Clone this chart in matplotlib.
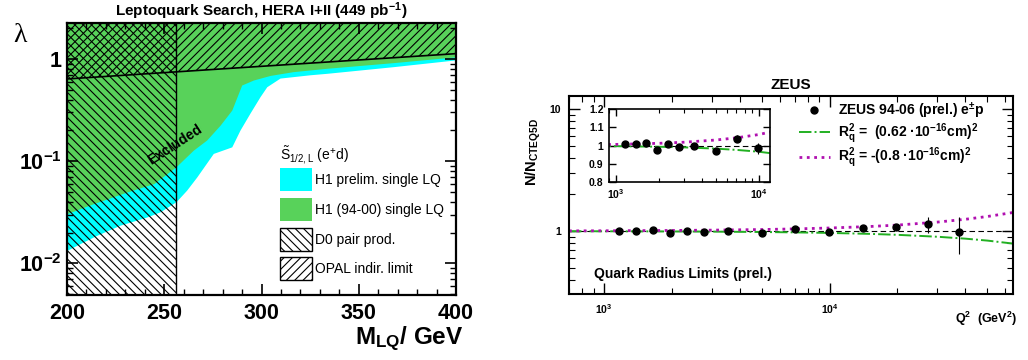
import matplotlib
matplotlib.use('Agg')
import matplotlib.pyplot as plt
from matplotlib.patches import Rectangle
from matplotlib.lines import Line2D
from matplotlib.ticker import MultipleLocator, NullFormatter

plt.rcParams['font.family'] = ['Liberation Sans', 'DejaVu Sans']
plt.rcParams['font.weight'] = 'bold'
plt.rcParams['axes.titleweight'] = 'bold'
plt.rcParams['axes.labelweight'] = 'bold'
plt.rcParams['mathtext.fontset'] = 'custom'
plt.rcParams['mathtext.rm'] = 'Liberation Sans:weight=normal'
plt.rcParams['mathtext.it'] = 'Liberation Sans:weight=normal'
plt.rcParams['mathtext.bf'] = 'Liberation Sans:bold'
plt.rcParams['hatch.linewidth'] = 0.8

# ---- left panel: leptoquark limits (lambda vs M_LQ) ----
m_cyan = [200, 206.7, 215.3, 227.2, 241, 247.8, 256, 261.5, 266.7, 275.2, 284.7,
          288.9, 294.1, 299.2, 302.7, 309.5, 324.9, 333.7, 367.6, 400]
lam_cyan = [0.0134, 0.0156, 0.0188, 0.0236, 0.0284, 0.0319, 0.040, 0.052, 0.070, 0.119, 0.138,
            0.201, 0.296, 0.427, 0.535, 0.65, 0.70, 0.724, 0.84, 0.98]
m_green = [200, 213.8, 231, 244.7, 256, 264.9, 271.8, 278.7, 284.7, 289.8, 295.8,
           304.4, 316.2, 333.7, 367.6, 400]
lam_green = [0.0307, 0.0385, 0.050, 0.0604, 0.088, 0.128, 0.161, 0.225, 0.316, 0.556, 0.622,
             0.690, 0.751, 0.811, 0.92, 1.05]
m_opal = [200, 400]
lam_opal = [0.637, 1.127]
m_d0 = 256

leg_labels = ['H1 prelim. single LQ', 'H1 (94-00) single LQ', 'D0 pair prod.', 'OPAL indir. limit']

# ---- right panel: ZEUS quark radius ----
q2 = [1166, 1383, 1645, 1959, 2330, 2762, 3545, 5003, 7014, 9930, 14020, 19720, 27180, 37440]
ratio = [1.007, 1.007, 1.015, 0.973, 1.007, 0.991, 0.998, 0.971, 1.038, 0.985, 1.07, 1.08, 1.14, 0.975]
ratio_err = [0.005, 0.005, 0.006, 0.007, 0.008, 0.009, 0.01, 0.012, 0.017, 0.03, 0.04, 0.06, 0.17, 0.33]
q2_curve = [700, 1000, 2000, 3000, 5000, 7000, 10000, 15000, 20000, 30000, 40000, 50000, 65000]
r_pos = [0.9976, 0.9966, 0.9932, 0.990, 0.983, 0.976, 0.966, 0.949, 0.932, 0.899, 0.867, 0.836, 0.790]
r_neg = [1.004, 1.006, 1.012, 1.018, 1.030, 1.042, 1.06, 1.09, 1.12, 1.185, 1.25, 1.317, 1.42]

c_cyan = '#00ffff'
c_green = '#58d25a'
c_pos = '#22b022'
c_neg = '#b010b0'

fig = plt.figure(figsize=(10.28, 3.6), dpi=100)

ax = fig.add_axes([0.0652, 0.1806, 0.3784, 0.7556])
ax.set_yscale('log')
ax.set_xlim(200, 400)
ax.set_ylim(0.0049, 2.25)
top = ax.get_ylim()[1]
bot = ax.get_ylim()[0]

ax.fill_between(m_cyan, lam_cyan, top, color=c_cyan, lw=0)
ax.fill_between(m_green, lam_green, top, color=c_green, lw=0)
ax.fill_betweenx([bot, top], 200, m_d0, facecolor='none', edgecolor='k',
                 hatch='\\\\\\\\', lw=0)
ax.fill_between(m_opal, lam_opal, top, facecolor='none', edgecolor='k', hatch='////', lw=0)
ax.plot(m_opal, lam_opal, color='k', lw=1.2)
ax.axvline(m_d0, color='k', lw=1)

ax.text(255.5, 0.1435, 'Excluded', rotation=33, ha='center', va='center', fontsize=10)

# legend drawn by hand, like the original
bx, bw, bh = 0.5476, 0.0823, 0.0846
rows = [0.4228, 0.3125, 0.2022, 0.0956]
styles = [dict(facecolor=c_cyan, edgecolor='none'),
          dict(facecolor=c_green, edgecolor='none'),
          dict(facecolor='white', edgecolor='k', hatch='\\\\\\\\', lw=1),
          dict(facecolor='white', edgecolor='k', hatch='////', lw=1)]
for y, st, lab in zip(rows, styles, leg_labels):
    ax.add_patch(Rectangle((bx, y - bh / 2), bw, bh, transform=ax.transAxes, **st))
    ax.text(0.6375, y, lab, transform=ax.transAxes, va='center', fontsize=10, weight='normal')
ax.text(bx, 0.5147, r'$\tilde{S}_{1/2,L}$ (e$^{+}$d)', transform=ax.transAxes,
        va='center', fontsize=10, weight='normal')

ax.set_xticks([200, 250, 300, 350, 400])
ax.xaxis.set_minor_locator(MultipleLocator(10))
ax.set_yticks([0.01, 0.1, 1], labels=[r'10$^{\mathbf{-2}}$', r'10$^{\mathbf{-1}}$', '1'])
ax.yaxis.set_minor_formatter(NullFormatter())
ax.tick_params(which='both', direction='in', top=True, right=True)
ax.tick_params(which='major', length=8, width=1.2, labelsize=15.5)
ax.tick_params(which='minor', length=4, width=1)
ax.tick_params(axis='x', pad=6)
ax.tick_params(axis='y', pad=4)
for s in ax.spines.values():
    s.set_linewidth(1.6)

ax.set_title(r'Leptoquark Search, HERA I+II (449 pb$^{\mathbf{-1}}$)', fontsize=11, pad=5)
ax.set_xlabel(r'M$_{\mathbf{LQ}}$/ GeV', fontsize=17.5, loc='right')
ax.xaxis.set_label_coords(1.02, -0.11)
fig.text(0.0195, 0.9, 'λ', fontsize=20, family='Liberation Serif', weight='normal',
         ha='center', va='center')

# ---- right panel ----
ax2 = fig.add_axes([0.5535, 0.1833, 0.4319, 0.55])
ax2.set_xscale('log')
ax2.set_yscale('log')
ax2.set_xlim(700, 65000)
ax2.set_ylim(0.305, 12.8)
ax2.axhline(1, color='k', ls='--', lw=0.8, dashes=(5, 3))
ax2.plot(q2_curve, r_pos, color=c_pos, ls='-.', lw=1.4)
ax2.plot(q2_curve, r_neg, color=c_neg, ls=':', lw=2)
ax2.errorbar(q2, ratio, yerr=ratio_err, fmt='o', color='k', ms=5, elinewidth=0.8, capsize=0)

ax2.set_yticks([1, 10], labels=['1', '10'])
ax2.yaxis.set_minor_formatter(NullFormatter())
ax2.set_xticks([1000, 10000], labels=[r'10$^{\mathbf{3}}$', r'10$^{\mathbf{4}}$'])
ax2.xaxis.set_minor_formatter(NullFormatter())
ax2.tick_params(which='both', direction='in', top=True, right=True)
ax2.tick_params(which='major', length=8, width=1, labelsize=7.5, pad=6)
ax2.tick_params(which='minor', length=4, width=0.8)
for s in ax2.spines.values():
    s.set_linewidth(1.5)

ax2.set_title('ZEUS', fontsize=11, pad=5)
ax2.set_ylabel(r'N/N$_{\mathbf{CTEQ5D}}$', fontsize=10.5)
ax2.yaxis.set_label_coords(-0.058, 0.717)
ax2.set_xlabel(r'Q$^{\mathbf{2}}$  (GeV$^{\mathbf{2}}$)', fontsize=9, loc='right')
ax2.xaxis.set_label_coords(1.01, -0.08)
ax2.text(0.0563, 0.101, 'Quark Radius Limits (prel.)', transform=ax2.transAxes,
         fontsize=10, va='center')

handles = [Line2D([], [], marker='o', color='k', ls='none', ms=5),
           Line2D([], [], color=c_pos, ls='-.', lw=1.4),
           Line2D([], [], color=c_neg, ls=':', lw=2)]
labels = [r'ZEUS 94-06 (prel.) e$^{\mathbf{\pm}}$p',
          r'R$_{\mathbf{q}}^{\mathbf{2}}$ =  (0.62 ·10$^{\mathbf{-16}}$cm)$^{\mathbf{2}}$',
          r'R$_{\mathbf{q}}^{\mathbf{2}}$ = -(0.8 ·10$^{\mathbf{-16}}$cm)$^{\mathbf{2}}$']
ax2.legend(handles, labels, loc='upper left', bbox_to_anchor=(0.49, 1.04), frameon=False,
           prop=dict(size=10, weight='bold'), handlelength=2.2, handletextpad=0.6,
           labelspacing=0.02)

# inset
ax3 = fig.add_axes([0.5924, 0.4944, 0.1566, 0.2028])
ax3.set_xscale('log')
ax3.set_xlim(900, 12000)
ax3.set_ylim(0.8, 1.2)
ax3.axhline(1, color='k', ls='--', lw=0.8, dashes=(5, 3))
ax3.plot(q2_curve, r_pos, color=c_pos, ls='-.', lw=1.4)
ax3.plot(q2_curve, r_neg, color=c_neg, ls=':', lw=2)
ax3.errorbar(q2[:10], ratio[:10], yerr=ratio_err[:10], fmt='o', color='k', ms=5,
             elinewidth=0.8, capsize=0)
ax3.set_yticks([0.8, 0.9, 1.0, 1.1, 1.2], labels=['0.8', '0.9', '1', '1.1', '1.2'])
ax3.set_xticks([1000, 10000], labels=[r'10$^{\mathbf{3}}$', r'10$^{\mathbf{4}}$'])
ax3.xaxis.set_minor_formatter(NullFormatter())
ax3.tick_params(which='both', direction='in', top=True, right=True)
ax3.tick_params(which='major', length=5, width=1, labelsize=7.5, pad=4)
ax3.tick_params(which='minor', length=3, width=0.8)
for s in ax3.spines.values():
    s.set_linewidth(1.2)

fig.savefig('out.png', dpi=100)
